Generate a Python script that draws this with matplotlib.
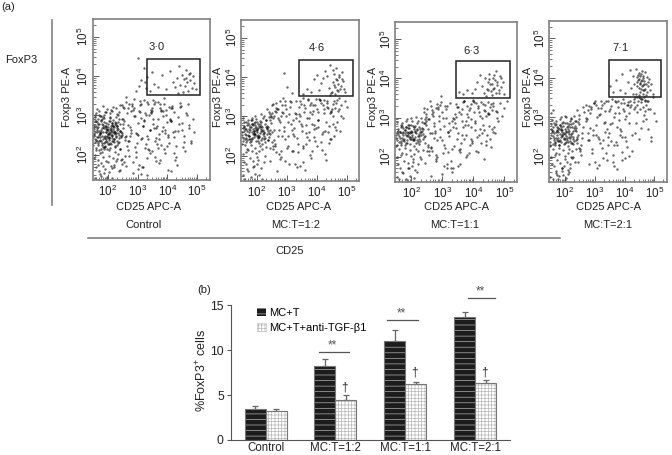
import matplotlib
matplotlib.use("Agg")
import matplotlib.pyplot as plt
import numpy as np
from matplotlib.patches import Patch, Rectangle
from matplotlib.ticker import LogLocator

plt.rcParams["font.family"] = ["Liberation Sans", "DejaVu Sans"]
plt.rcParams["mathtext.default"] = "regular"
plt.rcParams["hatch.linewidth"] = 0.5

W, H = 672, 455

# flow panels, log10 of the intensities
control_x = [
    1.55, 1.62, 1.71, 1.78, 1.84, 1.93, 2.01, 2.08, 2.17, 2.26, 2.34, 2.45,
    1.58, 1.66, 1.74, 1.81, 1.89, 1.96, 2.04, 2.12, 2.21, 2.29, 2.38, 2.52,
    1.52, 1.69, 1.76, 1.87, 1.91, 1.99, 2.06, 2.15, 2.19, 2.31, 2.41, 2.48,
    1.6, 1.64, 1.73, 1.83, 1.95, 2.03, 2.1, 2.14, 2.24, 2.33, 2.36, 2.56,
    1.54, 1.67, 1.79, 1.86, 1.92, 1.98, 2.07, 2.18, 2.23, 2.28, 2.43, 2.5,
    1.57, 1.63, 1.72, 1.8, 1.9, 2.0, 2.05, 2.11, 2.2, 2.27, 2.39, 2.6,
    1.53, 1.68, 1.75, 1.85, 1.94, 2.02, 2.09, 2.16, 2.25, 2.35, 2.44, 2.64,
    1.61, 1.7, 1.77, 1.82, 1.88, 1.97, 2.0, 2.13, 2.22, 2.3, 2.42, 2.58,
    1.56, 1.65, 1.74, 1.89, 1.95, 2.03, 2.12, 2.19, 2.27, 2.37, 2.47, 2.68,
    1.59, 1.71, 1.78, 1.86, 1.93, 2.06, 2.1, 2.17, 2.32, 2.4, 2.54, 2.72,
    1.55, 1.64, 1.72, 1.83, 1.9, 1.98, 2.08, 2.15, 2.26, 2.36, 2.46, 2.62,
    1.6, 1.69, 1.8, 1.88, 1.96, 2.05, 2.14, 2.24, 2.33, 2.51, 2.66, 2.78,
    2.75, 2.84, 2.92, 3.01, 3.08, 3.16, 3.24, 3.33, 3.41, 3.5, 3.57, 3.66,
    2.7, 2.81, 2.95, 3.04, 3.13, 3.21, 3.29, 3.38, 3.46, 3.54, 3.62, 3.71,
    3.74, 3.81, 3.88, 3.95, 4.02, 4.09, 4.16, 4.23, 4.3, 4.38, 4.46, 4.55,
    2.88, 2.98, 3.1, 3.19, 3.27, 3.35, 3.44, 3.59, 3.68, 3.77, 3.85, 3.93,
    4.0, 4.07, 4.14, 4.2, 4.27, 4.35, 4.42, 4.5, 4.58, 4.64, 4.72, 4.8,
    2.6, 2.86, 3.07, 3.3, 3.52, 3.72, 3.9, 4.12, 4.33, 4.52, 4.68, 4.87,
    3.42, 3.55, 3.7, 3.83, 3.96, 4.08, 4.18, 4.26, 4.34, 4.4, 4.44, 4.49,
    4.53, 4.56, 4.6, 4.63, 4.66, 4.7, 4.74, 4.78, 4.82, 4.86, 4.91, 4.97,
    2.95, 3.05, 3.2, 3.28, 3.1, 3.3, 3.47, 3.0, 3.25, 4.62, 4.35, 4.75,
    1.5, 1.59, 1.67, 1.73, 1.82, 1.87, 1.95, 2.02, 2.09, 2.15, 2.23, 2.31,
    1.53, 1.61, 1.69, 1.77, 1.84, 1.91, 1.99, 2.05, 2.11, 2.18, 2.26, 2.37,
    1.51, 1.57, 1.65, 1.75, 1.83, 1.89, 1.97, 2.04, 2.13, 2.2, 2.29, 2.34,
    1.56, 1.63, 1.7, 1.79, 1.86, 1.93, 2.0, 2.07, 2.16, 2.24, 2.32, 2.41,
    1.52, 1.6, 1.68, 1.76, 1.85, 1.92, 1.96, 2.03, 2.1, 2.19, 2.28, 2.39,
    1.54, 1.62, 1.72, 1.8, 1.88, 1.94, 2.01, 2.08, 2.14, 2.22, 2.3, 2.43,
    1.58, 1.66, 1.74, 1.81, 1.9, 1.98, 2.06, 2.12, 2.17, 2.25, 2.35, 2.46,
    1.5, 1.64, 1.71, 1.78, 1.87, 1.95, 2.04, 2.11, 2.21, 2.27, 2.38, 2.49,
    2.42, 2.55, 2.63, 2.71, 2.79, 2.87, 2.94, 3.02, 3.09, 3.17, 3.26, 3.34,
    2.46, 2.58, 2.67, 2.74, 2.83, 2.9, 2.97, 3.06, 3.14, 3.22, 3.31, 3.39,
    3.43, 3.49, 3.56, 3.63, 3.69, 3.76, 3.84, 3.91, 3.98, 4.05, 4.13, 4.21,
    3.45, 3.53, 3.6, 3.67, 3.73, 3.79, 3.87, 3.94, 4.01, 4.1, 4.17, 4.25,
    2.5, 2.62, 2.76, 2.89, 3.0, 3.12, 3.23, 3.36, 3.48, 3.61, 3.75, 3.89,
    4.03, 4.11, 4.22, 4.29, 4.37, 4.43, 4.51, 4.57, 4.65, 4.73, 4.81, 4.89,
    2.53, 2.69, 2.82, 2.96, 3.11, 3.18, 3.32, 3.4, 3.51, 3.64, 3.78, 3.92,
]
control_y = [
    2.41, 2.83, 2.12, 2.63, 2.95, 2.34, 2.71, 2.18, 2.89, 2.47, 2.66, 2.58,
    2.96, 2.25, 2.52, 2.08, 2.74, 2.49, 2.37, 2.81, 2.6, 2.26, 2.42, 2.79,
    2.7, 2.36, 2.87, 2.45, 2.2, 2.62, 2.93, 2.51, 2.33, 2.72, 2.15, 2.55,
    2.17, 2.58, 2.04, 2.76, 2.57, 2.28, 2.68, 2.43, 2.84, 2.56, 2.91, 2.38,
    2.5, 2.92, 2.31, 2.14, 2.66, 2.44, 2.55, 2.74, 2.22, 2.97, 2.48, 2.69,
    2.0, 2.68, 2.44, 2.9, 2.23, 2.53, 2.13, 2.6, 2.4, 2.76, 2.61, 2.47,
    1.92, 1.88, 1.78, 1.95, 1.84, 1.97, 1.72, 1.93, 2.07, 2.02, 1.86, 2.22,
    1.68, 1.58, 1.47, 1.72, 1.55, 1.44, 1.82, 1.66, 1.75, 1.9, 1.61, 1.98,
    1.42, 1.74, 1.51, 1.63, 1.39, 1.57, 1.41, 1.7, 1.83, 1.59, 1.77, 2.36,
    3.05, 3.12, 2.99, 3.02, 3.1, 3.07, 3.15, 3.21, 3.04, 3.27, 3.18, 3.3,
    3.0, 3.17, 2.98, 3.25, 3.08, 3.16, 2.97, 3.11, 3.2, 3.09, 3.26, 3.33,
    2.85, 3.01, 2.77, 2.94, 2.65, 2.86, 2.57, 2.78, 3.02, 2.92, 2.75, 3.12,
    2.49, 3.15, 2.2, 2.8, 3.26, 2.42, 3.05, 1.92, 2.63, 3.19, 2.35, 2.72,
    1.98, 3.29, 2.55, 1.75, 2.94, 3.38, 2.28, 2.12, 3.09, 2.67, 1.84, 2.4,
    3.3, 2.6, 2.15, 3.02, 1.62, 2.88, 3.2, 2.46, 1.95, 2.77, 3.25, 2.33,
    3.42, 2.52, 3.28, 1.7, 3.0, 2.41, 3.14, 3.34, 2.18, 3.12, 2.7, 2.05,
    2.83, 2.3, 3.18, 2.57, 1.88, 2.95, 3.32, 2.62, 2.1, 3.06, 2.75, 2.35,
    3.48, 1.55, 3.36, 1.48, 3.4, 1.78, 3.45, 1.58, 1.74, 2.2, 3.3, 2.92,
    3.62, 3.8, 3.71, 4.03, 3.66, 4.12, 3.86, 3.73, 3.95, 4.25, 3.78, 4.02,
    3.6, 3.92, 3.74, 4.15, 3.84, 3.63, 4.05, 3.9, 3.7, 4.0, 3.82, 3.68,
    3.62, 3.75, 4.2, 3.7, 3.9, 3.98, 4.1, 4.45, 3.85, 3.96, 3.58, 4.08,
    2.46, 2.72, 2.3, 2.55, 2.19, 2.67, 2.4, 2.59, 2.28, 2.75, 2.52, 2.64,
    2.65, 2.38, 2.78, 2.16, 2.58, 2.32, 2.77, 2.46, 2.63, 2.36, 2.56, 2.5,
    2.24, 2.58, 2.46, 2.35, 2.7, 2.48, 2.15, 2.53, 2.8, 2.39, 2.67, 2.29,
    2.85, 2.34, 2.61, 2.47, 2.21, 2.72, 2.54, 2.3, 2.66, 2.59, 2.35, 2.78,
    2.52, 2.11, 2.7, 2.58, 2.39, 2.8, 2.62, 2.42, 2.51, 2.7, 2.45, 2.6,
    2.75, 2.44, 2.56, 2.26, 2.84, 2.59, 2.27, 2.65, 2.35, 2.57, 2.73, 2.44,
    2.33, 2.78, 2.38, 2.69, 2.43, 2.33, 2.85, 2.49, 2.74, 2.2, 2.84, 2.51,
    2.92, 2.62, 2.5, 2.88, 2.31, 2.7, 2.43, 2.72, 2.56, 2.82, 2.33, 2.92,
    2.16, 2.85, 3.05, 2.35, 2.62, 3.2, 1.95, 2.5, 3.1, 2.72, 2.18, 3.3,
    1.9, 2.45, 3.2, 2.7, 1.82, 2.98, 2.3, 3.12, 1.7, 2.85, 2.48, 3.0,
    2.62, 2.1, 3.3, 2.42, 2.9, 1.88, 3.12, 2.55, 2.22, 3.22, 2.85, 2.05,
    3.05, 2.78, 1.95, 3.35, 2.52, 2.25, 2.98, 3.15, 2.45, 2.92, 3.25, 2.6,
    3.22, 1.72, 2.55, 2.98, 1.65, 2.4, 2.88, 2.15, 3.12, 2.68, 3.18, 3.3,
    2.5, 2.85, 3.08, 2.22, 2.6, 3.22, 2.8, 2.48, 3.0, 2.68, 2.3, 2.58,
    1.82, 2.12, 3.25, 2.08, 1.5, 2.72, 3.35, 2.05, 2.9, 2.28, 3.15, 2.62,
]

mc12_x = [
    1.52, 1.6, 1.68, 1.75, 1.82, 1.9, 1.97, 2.04, 2.12, 2.2, 2.28, 2.37,
    1.56, 1.63, 1.71, 1.79, 1.86, 1.94, 2.01, 2.08, 2.16, 2.24, 2.32, 2.42,
    1.54, 1.66, 1.73, 1.81, 1.88, 1.92, 1.99, 2.06, 2.14, 2.22, 2.3, 2.47,
    1.58, 1.65, 1.76, 1.84, 1.91, 1.96, 2.03, 2.1, 2.18, 2.26, 2.35, 2.52,
    1.53, 1.62, 1.7, 1.78, 1.85, 1.93, 2.0, 2.07, 2.15, 2.27, 2.4, 2.57,
    1.57, 1.69, 1.77, 1.83, 1.89, 1.98, 2.05, 2.11, 2.19, 2.33, 2.44, 2.63,
    1.55, 1.64, 1.72, 1.87, 1.95, 2.02, 2.13, 2.25, 2.38, 2.5, 2.66, 2.78,
    1.59, 1.67, 1.8, 1.9, 2.0, 2.09, 2.17, 2.29, 2.45, 2.6, 2.72, 2.86,
    2.36, 2.46, 2.55, 2.62, 2.7, 2.77, 2.83, 2.9, 2.96, 3.02, 3.08, 3.15,
    2.4, 2.5, 2.58, 2.65, 2.74, 2.8, 2.88, 2.93, 2.99, 3.05, 3.12, 3.2,
    3.22, 3.28, 3.34, 3.4, 3.46, 3.52, 3.58, 3.64, 3.7, 3.76, 3.82, 3.88,
    3.25, 3.31, 3.37, 3.43, 3.49, 3.55, 3.61, 3.67, 3.73, 3.79, 3.85, 3.92,
    3.95, 4.0, 4.06, 4.12, 4.18, 4.24, 4.3, 4.36, 4.42, 4.48, 4.54, 4.6,
    3.97, 4.03, 4.09, 4.15, 4.21, 4.27, 4.33, 4.39, 4.45, 4.52, 4.58, 4.65,
    4.68, 4.72, 4.77, 4.82, 4.88, 4.95, 5.02, 2.75, 3.0, 3.18, 2.9, 4.75,
    3.55, 3.68, 3.8, 3.9, 4.0, 4.08, 4.15, 4.22, 4.28, 4.34, 4.4, 4.46,
    4.5, 4.54, 4.57, 4.6, 4.63, 4.66, 4.69, 4.72, 4.75, 4.79, 4.83, 4.87,
    4.44, 4.49, 4.53, 4.58, 4.62, 4.67, 4.71, 4.76, 4.8, 4.85, 4.9, 4.96,
    1.51, 1.59, 1.66, 1.74, 1.81, 1.87, 1.95, 2.02, 2.09, 2.17, 2.25, 2.34,
    1.55, 1.61, 1.69, 1.76, 1.83, 1.92, 1.98, 2.05, 2.13, 2.21, 2.31, 2.39,
    1.53, 1.63, 1.72, 1.8, 1.88, 1.94, 2.01, 2.08, 2.15, 2.23, 2.36, 2.43,
    1.57, 1.65, 1.75, 1.85, 1.9, 1.97, 2.04, 2.11, 2.19, 2.28, 2.41, 2.49,
    1.5, 1.6, 1.7, 1.78, 1.86, 1.93, 2.0, 2.07, 2.14, 2.26, 2.37, 2.54,
    1.58, 1.68, 1.77, 1.84, 1.91, 1.96, 2.03, 2.1, 2.18, 2.3, 2.46, 2.59,
    2.43, 2.53, 2.6, 2.68, 2.75, 2.82, 2.89, 2.95, 3.03, 3.1, 3.17, 3.24,
    2.48, 2.56, 2.64, 2.72, 2.79, 2.85, 2.92, 2.98, 3.06, 3.13, 3.21, 3.29,
    3.32, 3.38, 3.44, 3.5, 3.56, 3.62, 3.68, 3.74, 3.8, 3.86, 3.92, 3.98,
    3.35, 3.41, 3.47, 3.53, 3.59, 3.65, 3.71, 3.77, 3.83, 3.89, 3.96, 4.02,
    4.05, 4.11, 4.17, 4.23, 4.29, 4.35, 4.41, 4.47, 4.53, 4.59, 4.66, 4.74,
    2.51, 2.67, 2.81, 2.94, 3.07, 3.19, 3.3, 3.42, 3.54, 3.66, 3.78, 3.91,
    4.04, 4.13, 4.2, 4.26, 4.32, 4.38, 4.43, 4.49, 4.55, 4.61, 4.68, 4.8,
]
mc12_y = [
    2.6, 2.28, 2.79, 2.5, 2.92, 2.64, 2.38, 2.82, 2.57, 2.95, 2.44, 2.73,
    2.95, 2.53, 2.16, 2.72, 2.42, 2.86, 2.6, 2.33, 2.75, 2.5, 2.9, 2.58,
    2.37, 2.85, 2.6, 2.28, 2.68, 2.48, 2.93, 2.7, 2.4, 2.66, 2.22, 2.83,
    2.72, 2.1, 2.43, 2.8, 2.56, 3.02, 2.47, 2.88, 2.62, 3.02, 2.55, 2.34,
    2.05, 2.68, 2.92, 2.35, 2.97, 2.2, 2.69, 2.13, 3.06, 2.35, 2.98, 2.66,
    1.85, 2.4, 1.95, 2.12, 1.72, 2.08, 1.9, 2.24, 2.18, 2.76, 2.2, 3.12,
    1.5, 1.78, 1.62, 1.88, 1.55, 1.98, 1.7, 1.83, 2.4, 3.1, 2.1, 2.85,
    1.42, 1.66, 1.45, 1.75, 1.8, 1.5, 1.4, 2.0, 1.88, 2.25, 3.2, 2.5,
    3.2, 3.05, 3.32, 3.15, 2.95, 3.4, 3.12, 2.62, 3.28, 2.2, 3.05, 2.8,
    3.12, 2.6, 2.4, 3.35, 2.05, 3.0, 3.48, 1.88, 3.18, 2.5, 3.38, 2.12,
    2.92, 3.1, 2.45, 3.25, 1.75, 2.75, 3.3, 2.3, 3.42, 2.6, 1.95, 3.15,
    2.5, 3.4, 2.1, 3.02, 2.82, 3.48, 1.65, 2.95, 2.4, 3.28, 3.05, 2.68,
    3.3, 2.25, 2.9, 3.42, 2.55, 3.18, 1.9, 3.35, 2.75, 2.42, 3.0, 3.22,
    2.7, 3.12, 3.45, 2.35, 3.28, 2.05, 3.4, 2.6, 3.08, 3.2, 2.5, 3.35,
    2.85, 3.15, 2.62, 3.3, 2.95, 3.38, 3.25, 2.9, 3.75, 3.6, 4.1, 3.46,
    3.58, 3.7, 3.62, 3.95, 4.05, 3.68, 3.85, 3.98, 4.15, 4.02, 3.72, 4.3,
    3.62, 3.88, 4.08, 3.75, 3.95, 4.22, 3.66, 3.82, 4.0, 3.7, 4.12, 3.9,
    3.55, 3.6, 4.18, 3.8, 3.58, 3.92, 3.65, 4.05, 3.78, 3.96, 3.7, 3.62,
    2.52, 2.75, 2.46, 2.67, 2.38, 2.78, 2.55, 2.65, 2.47, 2.72, 2.59, 2.68,
    2.7, 2.42, 2.64, 2.5, 2.8, 2.58, 2.74, 2.46, 2.68, 2.56, 2.74, 2.62,
    2.44, 2.68, 2.52, 2.72, 2.56, 2.78, 2.5, 2.76, 2.62, 2.42, 2.7, 2.92,
    2.62, 2.34, 2.77, 2.6, 2.84, 2.66, 2.54, 2.8, 2.45, 2.82, 2.48, 2.98,
    2.3, 2.56, 2.83, 2.66, 2.46, 2.7, 2.86, 2.5, 2.85, 2.6, 2.4, 2.25,
    2.85, 2.18, 2.42, 2.9, 2.62, 2.52, 2.38, 2.72, 2.3, 2.92, 2.65, 3.0,
    2.55, 2.95, 2.3, 3.18, 2.65, 1.98, 3.1, 2.42, 2.85, 3.25, 2.12, 2.7,
    3.0, 2.18, 3.22, 2.5, 1.92, 3.28, 2.72, 3.02, 2.25, 3.36, 2.55, 1.78,
    3.05, 2.3, 3.38, 2.62, 1.85, 3.22, 2.48, 2.95, 3.35, 2.12, 2.78, 3.45,
    1.72, 2.88, 3.32, 2.2, 3.12, 2.58, 3.45, 2.02, 2.82, 3.3, 2.38, 3.18,
    2.72, 3.42, 2.15, 3.08, 2.62, 3.25, 2.32, 3.15, 2.82, 3.38, 2.65, 3.2,
    3.28, 1.62, 2.12, 3.38, 1.78, 2.65, 2.95, 3.05, 2.25, 2.78, 3.12, 2.48,
    2.92, 3.35, 2.6, 3.42, 2.85, 3.22, 2.42, 3.12, 3.32, 2.72, 3.42, 3.02,
]

mc11_x = [
    1.51, 1.6, 1.67, 1.74, 1.82, 1.89, 1.97, 2.05, 2.13, 2.21, 2.29, 2.38,
    1.55, 1.63, 1.7, 1.78, 1.85, 1.93, 2.01, 2.09, 2.17, 2.25, 2.33, 2.43,
    1.53, 1.65, 1.72, 1.8, 1.87, 1.95, 2.03, 2.11, 2.15, 2.27, 2.36, 2.48,
    1.58, 1.66, 1.76, 1.83, 1.91, 1.99, 2.07, 2.19, 2.23, 2.31, 2.4, 2.54,
    1.54, 1.62, 1.71, 1.79, 1.86, 1.94, 2.0, 2.08, 2.14, 2.26, 2.45, 2.6,
    1.57, 1.68, 1.75, 1.84, 1.92, 1.98, 2.06, 2.16, 2.22, 2.35, 2.5, 2.66,
    1.52, 1.64, 1.73, 1.88, 1.96, 2.04, 2.12, 2.2, 2.3, 2.42, 2.57, 2.72,
    1.59, 1.69, 1.81, 1.9, 2.02, 2.1, 2.18, 2.28, 2.44, 2.63, 2.78, 2.84,
    2.4, 2.48, 2.56, 2.64, 2.7, 2.76, 2.82, 2.88, 2.94, 3.0, 3.06, 3.12,
    2.52, 2.6, 2.68, 2.74, 2.8, 2.86, 2.91, 2.97, 3.03, 3.09, 3.16, 3.22,
    3.18, 3.25, 3.31, 3.37, 3.43, 3.49, 3.55, 3.61, 3.67, 3.73, 3.79, 3.85,
    3.28, 3.34, 3.4, 3.46, 3.52, 3.58, 3.64, 3.7, 3.76, 3.82, 3.88, 3.94,
    3.91, 3.97, 4.03, 4.09, 4.15, 4.21, 4.27, 4.33, 4.39, 4.45, 4.51, 4.57,
    4.0, 4.06, 4.12, 4.18, 4.24, 4.3, 4.36, 4.42, 4.48, 4.54, 4.6, 4.66,
    4.63, 4.69, 4.75, 4.81, 4.87, 4.93, 5.0, 5.08, 2.98, 3.3, 2.62, 3.15,
    3.55, 3.66, 3.78, 3.95, 4.05, 4.12, 4.2, 4.27, 4.33, 4.38, 4.43, 4.48,
    4.52, 4.56, 4.6, 4.63, 4.67, 4.7, 4.74, 4.78, 4.82, 4.86, 4.9, 4.95,
    4.4, 4.46, 4.5, 4.55, 4.6, 4.65, 4.68, 4.73, 4.77, 4.84, 4.88, 5.0,
    1.5, 1.58, 1.65, 1.73, 1.81, 1.88, 1.96, 2.02, 2.1, 2.18, 2.24, 2.32,
    1.54, 1.61, 1.69, 1.77, 1.84, 1.9, 1.98, 2.04, 2.12, 2.2, 2.28, 2.37,
    1.52, 1.63, 1.71, 1.79, 1.86, 1.93, 2.0, 2.07, 2.15, 2.22, 2.34, 2.41,
    1.56, 1.66, 1.74, 1.82, 1.89, 1.95, 2.03, 2.09, 2.17, 2.26, 2.39, 2.46,
    1.51, 1.6, 1.7, 1.78, 1.85, 1.92, 1.99, 2.06, 2.13, 2.3, 2.43, 2.52,
    2.44, 2.55, 2.62, 2.69, 2.77, 2.84, 2.9, 2.98, 3.05, 3.11, 3.19, 3.26,
    2.47, 2.58, 2.65, 2.72, 2.79, 2.87, 2.93, 3.01, 3.08, 3.14, 3.21, 3.29,
    3.33, 3.39, 3.45, 3.51, 3.57, 3.63, 3.69, 3.75, 3.81, 3.87, 3.93, 3.99,
    3.35, 3.41, 3.47, 3.53, 3.59, 3.65, 3.71, 3.77, 3.83, 3.89, 3.96, 4.02,
    4.04, 4.1, 4.16, 4.22, 4.28, 4.34, 4.4, 4.46, 4.52, 4.58, 4.64, 4.72,
    2.5, 2.66, 2.8, 2.92, 3.04, 3.17, 3.3, 3.44, 3.56, 3.68, 3.8, 3.92,
    4.07, 4.14, 4.19, 4.25, 4.31, 4.37, 4.42, 4.47, 4.53, 4.59, 4.65, 4.76,
]
mc11_y = [
    2.55, 2.2, 2.75, 2.42, 2.9, 2.6, 2.32, 2.78, 2.5, 2.92, 2.4, 2.7,
    2.88, 2.48, 2.1, 2.68, 2.36, 2.82, 2.56, 2.26, 2.7, 2.46, 2.88, 2.54,
    2.3, 2.8, 2.55, 2.22, 2.64, 2.44, 2.9, 2.66, 2.34, 2.62, 2.18, 2.8,
    2.66, 2.05, 2.4, 2.76, 2.5, 2.98, 2.42, 2.85, 2.58, 3.0, 2.5, 2.3,
    2.0, 2.62, 2.86, 2.3, 2.95, 2.16, 2.64, 2.08, 3.02, 2.32, 2.95, 2.6,
    1.8, 2.35, 1.9, 2.06, 1.7, 2.02, 1.86, 2.2, 2.14, 2.74, 2.15, 3.08,
    1.48, 1.72, 1.58, 1.84, 1.5, 1.94, 1.66, 1.8, 1.95, 3.15, 2.05, 2.85,
    1.42, 1.62, 1.44, 1.7, 1.76, 1.46, 1.6, 1.98, 1.85, 2.22, 3.25, 2.42,
    3.25, 3.1, 2.95, 3.3, 3.05, 2.6, 3.35, 2.9, 3.4, 3.15, 2.3, 3.0,
    2.7, 3.42, 2.15, 2.78, 1.95, 3.22, 2.5, 3.55, 2.1, 3.3, 1.8, 2.85,
    2.62, 3.38, 2.2, 2.95, 2.72, 1.75, 3.15, 2.35, 3.4, 2.8, 2.05, 3.2,
    1.9, 2.75, 3.1, 2.45, 3.28, 2.12, 2.9, 3.42, 2.55, 3.02, 2.3, 3.35,
    2.95, 2.4, 3.4, 2.15, 3.25, 2.7, 3.0, 1.95, 3.32, 2.55, 3.1, 2.25,
    3.45, 2.85, 2.5, 3.15, 2.35, 3.35, 2.68, 3.05, 3.4, 2.45, 3.2, 2.75,
    3.3, 2.6, 3.15, 2.9, 3.38, 3.05, 3.25, 3.42, 1.55, 1.6, 1.5, 1.72,
    3.65, 3.6, 3.7, 3.62, 3.72, 3.92, 4.08, 3.8, 3.62, 4.0, 3.72, 3.9,
    4.12, 3.68, 3.86, 4.02, 3.75, 3.95, 4.18, 3.82, 3.64, 4.05, 3.78, 3.9,
    3.55, 3.7, 3.98, 3.85, 3.58, 3.74, 4.1, 3.62, 3.92, 3.7, 4.0, 3.6,
    2.48, 2.7, 2.4, 2.62, 2.35, 2.72, 2.5, 2.64, 2.44, 2.68, 2.54, 2.62,
    2.64, 2.38, 2.6, 2.46, 2.76, 2.56, 2.66, 2.42, 2.62, 2.52, 2.7, 2.58,
    2.42, 2.62, 2.48, 2.68, 2.52, 2.72, 2.46, 2.7, 2.6, 2.38, 2.66, 2.86,
    2.58, 2.3, 2.72, 2.55, 2.8, 2.6, 2.5, 2.75, 2.42, 2.76, 2.44, 2.92,
    2.28, 2.52, 2.78, 2.6, 2.42, 2.64, 2.82, 2.46, 2.78, 2.55, 2.36, 2.24,
    2.85, 2.95, 2.25, 3.15, 2.65, 1.98, 3.05, 2.42, 2.78, 3.22, 2.12, 2.68,
    3.02, 2.15, 3.2, 2.48, 1.88, 3.28, 2.7, 2.98, 2.22, 3.3, 2.52, 1.72,
    3.0, 2.28, 3.35, 2.6, 1.82, 3.22, 2.45, 2.92, 3.3, 2.1, 2.75, 3.42,
    1.7, 2.85, 3.28, 2.18, 3.08, 2.55, 3.42, 2.0, 2.8, 3.25, 2.35, 3.15,
    2.68, 3.38, 2.12, 3.05, 2.6, 3.2, 2.3, 3.12, 2.78, 3.35, 2.62, 3.18,
    3.22, 2.6, 2.05, 3.32, 1.75, 2.62, 2.92, 3.02, 2.2, 2.75, 3.08, 2.45,
    2.9, 3.3, 2.55, 3.4, 2.82, 3.18, 2.4, 3.08, 3.28, 2.7, 3.38, 3.0,
]

mc21_x = [
    1.53, 1.6, 1.68, 1.75, 1.83, 1.9, 1.98, 2.06, 2.14, 2.22, 2.3, 2.39,
    1.56, 1.63, 1.71, 1.78, 1.86, 1.94, 2.02, 2.1, 2.18, 2.26, 2.34, 2.44,
    1.51, 1.65, 1.73, 1.8, 1.88, 1.96, 2.04, 2.12, 2.2, 2.28, 2.37, 2.49,
    1.58, 1.67, 1.76, 1.84, 1.92, 2.0, 2.08, 2.16, 2.24, 2.32, 2.41, 2.54,
    1.54, 1.62, 1.7, 1.79, 1.87, 1.95, 2.03, 2.11, 2.19, 2.27, 2.46, 2.58,
    1.57, 1.66, 1.74, 1.82, 1.91, 1.99, 2.07, 2.15, 2.23, 2.35, 2.5, 2.64,
    1.52, 1.64, 1.72, 1.85, 1.93, 2.01, 2.09, 2.17, 2.25, 2.4, 2.55, 2.7,
    1.59, 1.69, 1.77, 1.89, 1.97, 2.05, 2.13, 2.21, 2.33, 2.48, 2.62, 2.76,
    1.55, 1.61, 1.73, 1.81, 1.9, 2.0, 2.1, 2.18, 2.29, 2.43, 2.6, 2.82,
    2.7, 2.78, 2.85, 2.92, 2.98, 3.04, 3.1, 3.16, 3.22, 3.28, 3.34, 3.4,
    2.74, 2.81, 2.88, 2.95, 3.01, 3.07, 3.13, 3.19, 3.25, 3.31, 3.37, 3.43,
    3.46, 3.52, 3.58, 3.64, 3.7, 3.76, 3.82, 3.88, 3.94, 4.0, 4.06, 4.12,
    3.49, 3.55, 3.61, 3.67, 3.73, 3.79, 3.85, 3.91, 3.97, 4.03, 4.09, 4.15,
    4.18, 4.24, 4.3, 4.36, 4.42, 4.48, 4.54, 4.6, 4.66, 4.72, 4.8, 4.9,
    3.5, 3.6, 3.72, 3.83, 3.93, 4.02, 4.1, 4.17, 4.23, 4.28, 4.33, 4.38,
    4.4, 4.43, 4.46, 4.48, 4.5, 4.52, 4.54, 4.56, 4.58, 4.6, 4.62, 4.64,
    4.42, 4.45, 4.47, 4.49, 4.51, 4.53, 4.55, 4.57, 4.59, 4.61, 4.63, 4.65,
    4.66, 4.68, 4.7, 4.72, 4.74, 4.76, 4.78, 4.8, 4.83, 4.86, 4.9, 4.95,
    4.3, 4.35, 4.39, 4.44, 4.47, 4.52, 4.56, 4.6, 4.64, 4.69, 4.73, 4.77,
    4.2, 4.27, 4.34, 4.41, 4.5, 4.58, 4.67, 4.75, 4.84, 4.94, 5.0, 5.05,
    1.5, 1.59, 1.66, 1.74, 1.81, 1.88, 1.96, 2.03, 2.11, 2.19, 2.27, 2.36,
    1.55, 1.62, 1.69, 1.77, 1.84, 1.91, 1.99, 2.05, 2.13, 2.21, 2.31, 2.41,
    1.52, 1.64, 1.72, 1.8, 1.86, 1.93, 2.01, 2.08, 2.15, 2.24, 2.34, 2.45,
    1.57, 1.67, 1.75, 1.83, 1.89, 1.97, 2.04, 2.1, 2.17, 2.29, 2.38, 2.48,
    1.51, 1.6, 1.7, 1.78, 1.85, 1.92, 2.0, 2.07, 2.14, 2.22, 2.42, 2.52,
    1.54, 1.63, 1.73, 1.79, 1.87, 1.95, 2.02, 2.09, 2.16, 2.25, 2.39, 2.56,
    2.72, 2.8, 2.87, 2.94, 3.0, 3.06, 3.12, 3.18, 3.24, 3.3, 3.36, 3.42,
    2.76, 2.83, 2.9, 2.96, 3.03, 3.09, 3.15, 3.21, 3.27, 3.33, 3.39, 3.45,
    3.48, 3.54, 3.6, 3.66, 3.72, 3.78, 3.84, 3.9, 3.96, 4.02, 4.08, 4.14,
    3.51, 3.57, 3.63, 3.69, 3.75, 3.81, 3.87, 3.93, 3.99, 4.05, 4.11, 4.16,
    4.19, 4.25, 4.31, 4.37, 4.43, 4.49, 4.55, 4.61, 4.67, 4.73, 4.79, 4.88,
]
mc21_y = [
    2.55, 2.2, 2.8, 2.42, 2.95, 2.62, 2.32, 2.85, 2.5, 2.96, 2.4, 2.72,
    2.92, 2.48, 2.1, 2.72, 2.36, 2.88, 2.58, 2.26, 2.75, 2.45, 2.9, 2.55,
    2.3, 2.84, 2.55, 2.22, 2.68, 2.44, 3.0, 2.7, 2.34, 2.65, 2.18, 2.82,
    2.68, 2.05, 2.4, 2.8, 2.52, 3.04, 2.42, 2.9, 2.6, 3.02, 2.5, 2.3,
    2.0, 2.65, 2.9, 2.3, 3.0, 2.16, 2.66, 2.08, 2.98, 2.32, 3.05, 2.6,
    1.82, 2.36, 1.92, 2.06, 1.7, 2.02, 1.86, 2.2, 2.14, 2.78, 2.15, 3.12,
    1.48, 1.75, 1.58, 1.84, 1.52, 1.94, 1.66, 1.8, 1.95, 3.18, 2.05, 2.9,
    1.42, 1.62, 1.44, 1.7, 1.76, 1.46, 1.6, 1.98, 1.85, 2.22, 3.25, 2.42,
    3.1, 3.18, 1.52, 1.5, 1.62, 1.4, 1.56, 1.7, 2.0, 1.85, 2.75, 3.28,
    3.3, 2.6, 3.1, 2.2, 3.35, 2.8, 3.22, 2.45, 3.4, 1.95, 3.15, 2.7,
    2.95, 1.8, 3.25, 2.55, 3.4, 1.7, 3.05, 2.35, 3.3, 2.85, 2.1, 3.42,
    2.5, 3.2, 2.85, 1.75, 3.38, 2.3, 3.1, 2.65, 3.45, 1.95, 3.02, 3.3,
    3.15, 2.4, 2.05, 3.42, 2.75, 3.25, 2.55, 1.9, 3.35, 2.95, 2.25, 3.1,
    3.4, 2.15, 3.2, 2.6, 3.3, 2.45, 3.45, 2.9, 3.05, 3.3, 2.7, 2.4,
    3.8, 3.65, 3.95, 3.7, 4.1, 3.62, 3.9, 4.2, 3.75, 4.05, 3.85, 4.22,
    4.02, 3.78, 3.95, 4.12, 3.85, 4.05, 3.72, 3.92, 4.18, 3.82, 4.0, 3.68,
    3.9, 4.08, 3.75, 3.98, 3.65, 3.88, 4.1, 3.8, 3.95, 3.7, 4.05, 3.85,
    3.92, 3.72, 4.15, 3.85, 4.02, 3.65, 3.9, 3.78, 3.98, 3.7, 3.85, 3.6,
    3.45, 3.52, 3.6, 3.42, 3.55, 3.48, 3.38, 3.58, 3.5, 3.44, 3.56, 3.4,
    3.3, 3.6, 3.25, 3.5, 3.2, 3.45, 3.15, 3.4, 3.2, 3.5, 3.1, 2.9,
    2.46, 2.74, 2.35, 2.66, 2.28, 2.74, 2.48, 2.62, 2.38, 2.82, 2.5, 2.64,
    2.7, 2.32, 2.62, 2.48, 2.8, 2.54, 2.7, 2.36, 2.64, 2.52, 2.72, 2.44,
    2.38, 2.6, 2.46, 2.7, 2.5, 2.78, 2.44, 2.74, 2.58, 2.34, 2.68, 2.88,
    2.62, 2.28, 2.74, 2.58, 2.84, 2.6, 2.52, 2.78, 2.4, 2.84, 2.42, 2.96,
    2.26, 2.52, 2.82, 2.62, 2.42, 2.68, 2.86, 2.46, 2.82, 2.56, 2.34, 2.2,
    2.82, 2.42, 2.68, 2.4, 2.7, 2.58, 2.34, 2.62, 2.46, 2.74, 2.9, 2.48,
    2.98, 2.42, 3.2, 2.68, 1.85, 3.3, 2.5, 3.08, 2.22, 3.36, 2.62, 1.92,
    3.18, 2.72, 2.1, 3.35, 2.55, 3.0, 1.78, 3.24, 2.42, 2.88, 3.42, 2.28,
    2.6, 3.28, 1.85, 3.0, 2.38, 3.4, 2.7, 2.12, 3.2, 2.5, 3.32, 2.02,
    2.82, 3.45, 2.28, 3.1, 1.68, 2.92, 3.35, 2.5, 3.15, 2.4, 3.38, 2.85,
    3.25, 2.55, 3.38, 2.85, 3.12, 3.5, 2.72, 3.25, 3.42, 2.95, 3.2, 2.5,
]

panel_x = [control_x, mc12_x, mc11_x, mc21_x]
panel_y = [control_y, mc12_y, mc11_y, mc21_y]
panel_boxes = [(92.5, 209.5, 19, 180), (241, 359.3, 20, 181),
               (395.3, 517.3, 21.7, 181.7), (549.3, 667, 20.7, 181.7)]
gates = [(3.31, 5.09, 3.53, 4.44), (3.42, 5.2, 3.52, 4.43),
         (3.45, 5.17, 3.5, 4.44), (3.47, 5.21, 3.5, 4.44)]
gate_pct = ["3·0", "4·6", "6·3", "7·1"]
pct_pos = [(157, 47), (317, 48), (472, 51), (620, 48)]
panel_names = ["Control", "MC:T=1:2", "MC:T=1:1", "MC:T=2:1"]
name_x = [144, 296, 455, 608]
xlabel_x = [149, 299, 456, 609]
ylabel_x = [67, 218, 373, 528]

# bar panel
categories = ["Control", "MC:T=1:2", "MC:T=1:1", "MC:T=2:1"]
mct_vals = [3.4, 8.2, 11.0, 13.7]
mct_err = [0.4, 0.8, 1.2, 0.5]
anti_vals = [3.2, 4.5, 6.2, 6.4]
anti_err = [0.3, 0.5, 0.3, 0.3]
sig_lines = [(0.76, 1.2, 9.77), (1.74, 2.18, 13.36), (2.9, 3.29, 15.8)]
dagger_x = [1.13, 2.13, 3.13]
dagger_y = [5.9, 7.5, 7.5]

GREY = "#808080"
FS = 8.0
DARK_HATCH = "---"
LIGHT_HATCH = "+++++"
DARK_EDGE = "#b0b0b0"
LIGHT_EDGE = "#b8b8b8"


def axes_px(left, right, top, bottom):
    return fig.add_axes([left / W, 1 - bottom / H, (right - left) / W, (bottom - top) / H])


def text_px(x, y, s, **kw):
    kw.setdefault("fontsize", FS)
    kw.setdefault("ha", "center")
    kw.setdefault("va", "center")
    kw.setdefault("color", "#222222")
    fig.text(x / W, 1 - y / H, s, **kw)


def line_px(xs, ys, color=GREY, lw=1.2):
    fig.add_artist(plt.Line2D([x / W for x in xs], [1 - y / H for y in ys], color=color, lw=lw))


def flow_panel(box, xs, ys, gate):
    ax = axes_px(*box)
    ax.scatter(10 ** np.array(xs), 10 ** np.array(ys), s=3.0, c="black", alpha=0.6, linewidths=0)
    ax.set_xscale("log")
    ax.set_yscale("log")
    ax.set_xlim(10 ** 1.48, 10 ** 5.42)
    ax.set_ylim(10 ** 1.36, 10 ** 5.45)
    for axis in (ax.xaxis, ax.yaxis):
        axis.set_major_locator(LogLocator(base=10, numticks=8))
        axis.set_minor_locator(LogLocator(base=10, subs=range(2, 10), numticks=8))
    ax.tick_params(which="major", direction="in", length=4, width=0.6, color="#444444",
                   labelsize=8.4, labelcolor="#222222", pad=3)
    ax.tick_params(axis="y", which="major", pad=1)
    ax.tick_params(which="minor", direction="in", length=2, width=0.5, color="#444444",
                   labelbottom=False, labelleft=False)
    for lab in ax.get_yticklabels():
        lab.set_rotation(90)
        lab.set_va("center")
    for sp in ax.spines.values():
        sp.set_color(GREY)
        sp.set_linewidth(1.2)
    x0, x1, y0, y1 = gate
    ax.add_patch(Rectangle((10 ** x0, 10 ** y0), 10 ** x1 - 10 ** x0, 10 ** y1 - 10 ** y0,
                           fill=False, ec="#222222", lw=1.1, zorder=3))
    return ax


fig = plt.figure(figsize=(W / 100, H / 100), dpi=100)

for i in range(4):
    flow_panel(panel_boxes[i], panel_x[i], panel_y[i], gates[i])
    text_px(xlabel_x[i], 207, "CD25 APC-A")
    text_px(ylabel_x[i], 97, "Foxp3 PE-A", rotation=90)
    text_px(pct_pos[i][0], pct_pos[i][1], gate_pct[i])
    text_px(name_x[i], 225, panel_names[i])

text_px(1, 7, "(a)", ha="left")
text_px(5, 60, "FoxP3", ha="left")
text_px(290, 251, "CD25")
line_px([52, 52], [20, 205])
line_px([88, 560], [238, 238])

# (b)
ax = axes_px(230.7, 510, 305.3, 440)
pos = np.arange(len(categories))
width = 0.3
ax.bar(pos - width / 2, mct_vals, width, color="#1c1c1c", edgecolor=DARK_EDGE, hatch=DARK_HATCH, linewidth=0, zorder=2)
ax.bar(pos - width / 2, mct_vals, width, fill=False, edgecolor="#777777", linewidth=0.8, zorder=3)
ax.bar(pos + width / 2, anti_vals, width, color="white", edgecolor=LIGHT_EDGE, hatch=LIGHT_HATCH, linewidth=0, zorder=2)
ax.bar(pos + width / 2, anti_vals, width, fill=False, edgecolor="#777777", linewidth=0.8, zorder=3)
ax.errorbar(pos - width / 2, mct_vals, yerr=[[0] * 4, mct_err], fmt="none", ecolor="#666666",
            elinewidth=0.9, capsize=2.5, capthick=0.9, zorder=1)
ax.errorbar(pos + width / 2, anti_vals, yerr=[[0] * 4, anti_err], fmt="none", ecolor="#666666",
            elinewidth=0.9, capsize=2.5, capthick=0.9, zorder=1)
ax.set_xlim(-0.5, 3.5)
ax.set_ylim(0, 15)
ax.set_yticks([0, 5, 10, 15])
ax.set_xticks(pos)
ax.set_xticklabels(categories)
ax.tick_params(axis="y", length=3, width=0.8, color="#555555", labelsize=8.8, labelcolor="#222222", pad=2)
ax.tick_params(axis="x", length=0, labelsize=8.3, labelcolor="#222222", pad=1.5)
ax.spines["top"].set_visible(False)
ax.spines["right"].set_visible(False)
ax.spines["left"].set_color("#555555")
ax.spines["bottom"].set_color("#555555")

for x0, x1, y in sig_lines:
    ax.plot([x0, x1], [y, y], color="#555555", lw=0.9, clip_on=False)
    ax.text((x0 + x1) / 2 - 0.02, y + 0.1, "**", ha="center", va="bottom", fontsize=8.5, color="#555555")
for x, y in zip(dagger_x, dagger_y):
    ax.text(x, y, "†", ha="center", va="center", fontsize=8.5, color="#222222")

handles = [Patch(facecolor="#1c1c1c", edgecolor=DARK_EDGE, hatch=DARK_HATCH, linewidth=0),
           Patch(facecolor="white", edgecolor=LIGHT_EDGE, hatch=LIGHT_HATCH, linewidth=0.4)]
ax.legend(handles, ["MC+T", "MC+T+anti-TGF-β1"], frameon=False, fontsize=8.0, loc="upper left",
          bbox_to_anchor=(0.095, 0.98), handlelength=0.75, handleheight=0.7, handletextpad=0.35,
          labelspacing=0.45, borderaxespad=0, borderpad=0)

text_px(197, 290, "(b)", ha="left")
text_px(202, 371, "%FoxP3$^{+}$ cells", rotation=90, fontsize=9)

fig.savefig("out.png", dpi=100)
